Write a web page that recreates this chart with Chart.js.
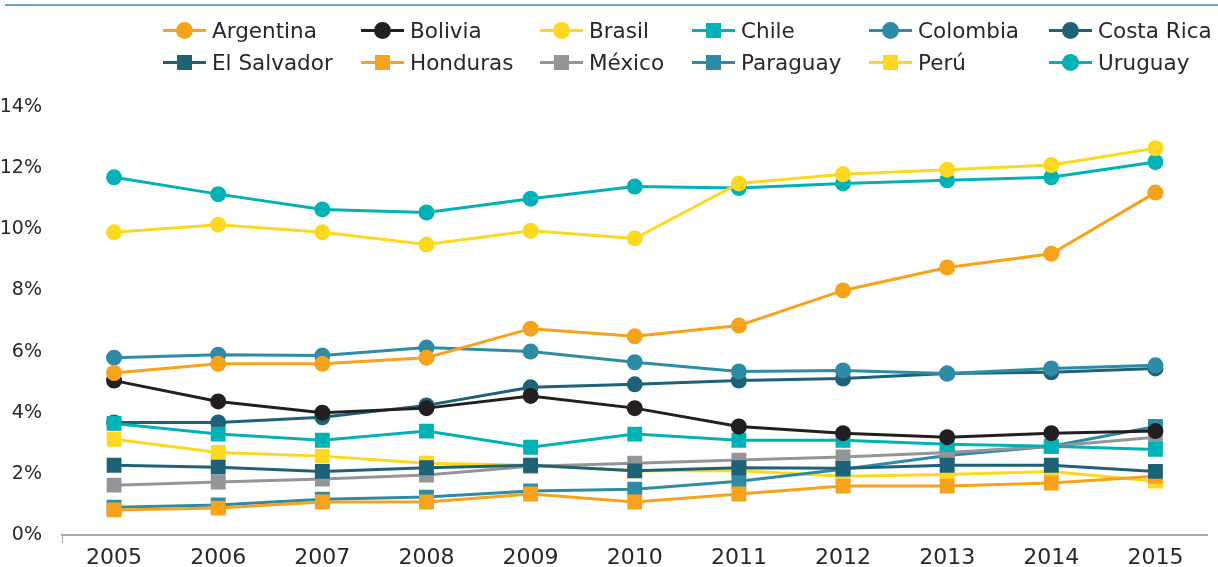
<!DOCTYPE html>
<html>
<head>
<meta charset="utf-8">
<script src="https://cdn.jsdelivr.net/npm/chart.js@4"></script>
<style>
  body { margin: 0; background: #fff; font-family: "DejaVu Sans", sans-serif; }
  #wrap { position: relative; width: 1218px; height: 567px; }
  #topline { position: absolute; left: 5px; top: 4px; width: 1213px; height: 2px; background: #6aa9bb; }
  #legend { position: absolute; left: 163px; top: 19px; display: grid;
    grid-template-columns: 198px 179px 152px 177px 180px 168px; row-gap: 10px; }
  .item { display: flex; align-items: center; height: 22px; font-size: 21.5px; color: #2b2728; white-space: nowrap; }
  .sym { position: relative; width: 43px; height: 22px; margin-right: 6px; flex: none; }
  .sym .ln { position: absolute; left: 0; right: 0; top: 10px; height: 3px; }
  .sym .mk { position: absolute; left: 14px; top: 4px; width: 15px; height: 15px; }
  .sym .mk.c { border-radius: 50%; left: 13px; top: 3px; width: 17px; height: 17px; }
</style>
</head>
<body>
<div id="wrap">
  <div id="topline"></div>
  <div id="legend"></div>
  <canvas id="myChart" width="1218" height="567"></canvas>
</div>
<script>
const years = ['2005', '2006', '2007', '2008', '2009', '2010', '2011', '2012', '2013', '2014', '2015'];

const argentina  = [5.3, 5.6, 5.6, 5.8, 6.75, 6.5, 6.85, 8.0, 8.75, 9.2, 11.2];
const bolivia    = [5.05, 4.37, 4.0, 4.15, 4.55, 4.15, 3.55, 3.33, 3.2, 3.33, 3.4];
const brasil     = [9.9, 10.15, 9.9, 9.5, 9.95, 9.7, 11.5, 11.8, 11.95, 12.1, 12.65];
const chile      = [3.65, 3.3, 3.1, 3.4, 2.87, 3.3, 3.1, 3.1, 2.97, 2.9, 2.8];
const colombia   = [5.8, 5.9, 5.87, 6.13, 6.0, 5.65, 5.35, 5.38, 5.28, 5.45, 5.55];
const costaRica  = [3.68, 3.68, 3.85, 4.24, 4.83, 4.93, 5.05, 5.12, 5.28, 5.32, 5.45];
const elSalvador = [2.28, 2.22, 2.08, 2.2, 2.28, 2.1, 2.2, 2.18, 2.28, 2.28, 2.08];
const honduras   = [0.82, 0.88, 1.08, 1.08, 1.34, 1.08, 1.34, 1.6, 1.6, 1.7, 1.92];
const mexico     = [1.63, 1.73, 1.83, 1.96, 2.25, 2.35, 2.45, 2.55, 2.7, 2.9, 3.2];
const paraguay   = [0.91, 0.98, 1.17, 1.24, 1.44, 1.5, 1.76, 2.15, 2.6, 2.9, 3.55];
const peru       = [3.13, 2.7, 2.58, 2.35, 2.28, 2.1, 2.1, 1.92, 1.98, 2.08, 1.76];
const uruguay    = [11.7, 11.15, 10.65, 10.55, 11.0, 11.4, 11.35, 11.5, 11.6, 11.7, 12.2];

const yTicks = [0, 2, 4, 6, 8, 10, 12, 14];

function series(label, data, color, style) {
    return {
        label: label,
        data: data,
        borderColor: color,
        backgroundColor: color,
        borderWidth: 3,
        pointStyle: style,
        pointRadius: style === 'rect' ? 10.5 : 8,
        pointBorderWidth: 0,
        tension: 0
    };
}

const datasets = [
    series('Argentina', argentina, '#f7a21b', 'circle'),
    series('Bolivia', bolivia, '#231f20', 'circle'),
    series('Brasil', brasil, '#fcd920', 'circle'),
    series('Chile', chile, '#00b1b5', 'rect'),
    series('Colombia', colombia, '#2e8ba5', 'circle'),
    series('Costa Rica', costaRica, '#1e6278', 'circle'),
    series('El Salvador', elSalvador, '#1e6278', 'rect'),
    series('Honduras', honduras, '#f7a21b', 'rect'),
    series('México', mexico, '#939598', 'rect'),
    series('Paraguay', paraguay, '#2e8ba5', 'rect'),
    series('Perú', peru, '#fcd920', 'rect'),
    series('Uruguay', uruguay, '#00b1b5', 'circle')
];

// html legend, laid out in columns like the original
const legendEl = document.getElementById('legend');
datasets.forEach(ds => {
    const item = document.createElement('div');
    item.className = 'item';
    const round = ds.pointStyle === 'circle' ? ' c' : '';
    item.innerHTML = '<span class="sym"><span class="ln" style="background:' + ds.borderColor + '"></span>' +
        '<span class="mk' + round + '" style="background:' + ds.borderColor + '"></span></span>' + ds.label;
    legendEl.appendChild(item);
});

const ctx = document.getElementById('myChart').getContext('2d');
Chart.defaults.font.family = '"DejaVu Sans", sans-serif';
Chart.defaults.color = '#2b2728';

const myChart = new Chart(ctx, {
    type: 'line',
    data: { labels: years, datasets: datasets },
    options: {
        responsive: false,
        animation: false,
        layout: { padding: { top: 107, right: 8, bottom: 0, left: 0 } },
        plugins: { legend: { display: false }, tooltip: { enabled: false } },
        scales: {
            x: {
                offset: true,
                grid: {
                    offset: true,
                    drawOnChartArea: false,
                    tickLength: 8,
                    color: (c) => (c.index === 0 || c.index === years.length) ? '#a7a9ac' : 'rgba(0,0,0,0)'
                },
                border: { color: '#a7a9ac', width: 2 },
                ticks: { font: { size: 22 }, padding: 2 },
                afterFit: (scale) => { scale.height = 32; }
            },
            y: {
                min: 0,
                max: 14,
                afterBuildTicks: (scale) => { scale.ticks = yTicks.map(v => ({ value: v })); },
                grid: { display: false },
                border: { display: false },
                ticks: { font: { size: 19 }, padding: 12, callback: (v) => v + '%' },
                afterFit: (scale) => { scale.width = 62; }
            }
        }
    }
});
</script>
</body>
</html>
